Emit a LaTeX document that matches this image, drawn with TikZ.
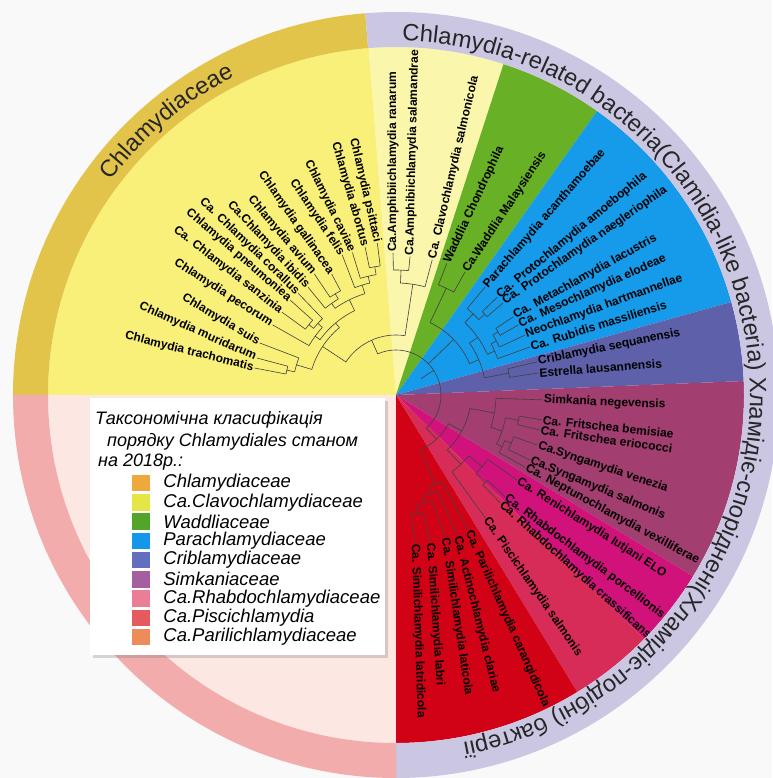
\documentclass[tikz,border=0pt]{standalone}
\usepackage{fontspec}
\setmainfont{Liberation Sans}
\usepackage{tikz}
\usetikzlibrary{positioning, decorations.text, shadows}

\definecolor{bgwhite}{RGB}{249,249,250}
\definecolor{chlamy}{RGB}{249,240,122}
\definecolor{clavo}{RGB}{250,246,172}
\definecolor{waddlia}{RGB}{104,176,38}
\definecolor{parachl}{RGB}{22,154,234}
\definecolor{cribla}{RGB}{94,96,170}
\definecolor{simkan}{RGB}{162,62,112}
\definecolor{rhabdo}{RGB}{208,18,122}
\definecolor{pisci}{RGB}{216,44,88}
\definecolor{parili}{RGB}{210,2,22}
\definecolor{pinkin}{RGB}{252,231,227}
\definecolor{ringyel}{RGB}{227,196,74}
\definecolor{ringlav}{RGB}{203,198,226}
\definecolor{ringpink}{RGB}{243,172,172}
% legend swatches
\definecolor{lgchlamy}{RGB}{238,168,60}
\definecolor{lgclavo}{RGB}{228,230,70}
\definecolor{lgwaddlia}{RGB}{82,165,40}
\definecolor{lgpara}{RGB}{20,150,235}
\definecolor{lgcribla}{RGB}{100,110,190}
\definecolor{lgsimkan}{RGB}{165,95,160}
\definecolor{lgrhabdo}{RGB}{235,125,150}
\definecolor{lgpisci}{RGB}{228,90,95}
\definecolor{lgparili}{RGB}{235,140,90}

\tikzstyle{branch} = [black!75, line width=0.6pt]
\tikzstyle{leaf} = [font=\bfseries\fontsize{12}{12}\selectfont, inner sep=1pt]
\tikzstyle{legtext} = [font=\itshape\fontsize{18.5}{19}\selectfont, anchor=west, inner sep=0pt]
\tikzstyle{legtitle} = [font=\itshape\fontsize{18}{18}\selectfont, anchor=west, inner sep=0pt]
\newcommand{\ringfont}{\fontsize{23.7}{24}\selectfont\color{black!85}}

\begin{document}
\begin{tikzpicture}[x=1pt, y=1pt]
    % frame
    \useasboundingbox (-396,-383) rectangle (376,395);
    \fill[bgwhite] (-396,-383) rectangle (376,395);

    % coloured sectors
    \fill[pinkin] (0,0) -- (180:348) arc[start angle=180, end angle=270, radius=348] -- cycle;
    \foreach \a/\b/\c in {94.5/180/chlamy, 72/94.5/clavo, 54.7/72/waddlia, 15.5/54.7/parachl, 2.3/15.5/cribla,
        -31.4/2.3/simkan, -44.5/-31.4/rhabdo, -58.6/-44.5/pisci, -90/-58.6/parili}
        \fill[\c] (0,0) -- (\a:348) arc[start angle=\a, end angle=\b, radius=348] -- cycle;

    % inner branches: arc from/to, radius, parent radius
    \foreach \a/\b/\rr/\pp in {169.2/165.1/112/104, 167.15/159.1/104/88, 144/138.1/112/106, 141.05/133.9/106/100,
        150.4/137.5/100/94, 124/118/118/112, 129.2/121/112/106, 101.8/97/130/122, 107/99.4/122/115,
        111/103.2/115/106, 125.1/107.1/106/94, 143.95/116.1/94/88, 163.1/130.03/88/60,
        91.2/84.2/125/112, 87.7/75/112/60, 146.6/81.35/60/45,
        68.9/60.7/118/80, 44/40.7/120/112, 50.5/42.35/112/100, 33.7/29.8/120/114, 31.75/24.9/114/108,
        28.3/19.7/108/100, 46.4/24/100/90, 13.2/8.8/115/90, 35.2/11/90/80, 64.8/23.1/80/45,
        -9.7/-13.7/125/112, -19.5/-25.9/125/118, -22.7/-29.2/118/112, -11.7/-25.95/112/100, -1.9/-18.8/100/75,
        -43/-46/125/112, -35.1/-44.5/112/95, -39.8/-54/95/75, -10.35/-46.9/75/60,
        -77/-82.7/120/112, -71/-79.85/112/105, -66.5/-75.4/105/98, -62/-70.95/98/60, -28.6/-66.5/60/45,
        113.9/-47.55/45/30}{
        \pgfmathsetmacro{\mid}{(\a+\b)/2}
        \draw[branch] (\a:\rr) arc[start angle=\a, end angle=\b, radius=\rr] (\mid:\rr) -- (\mid:\pp);
    }

    % leaves on the left: id/angle/radius/direction/node radius/name
    \foreach \i/\ang/\rad/\dir/\rn/\txt in {1/169.2/144/166/112/Chlamydia trachomatis,
        2/165.1/144/156/112/Chlamydia muridarum, 3/159.1/146/149/104/Chlamydia suis,
        4/150.4/142/147/100/Chlamydia pecorum, 5/144/141/142/112/Ca. Chlamydia sanzinia,
        6/138.1/142/139/112/Chlamydia pneumoniea, 7/133.9/141/136/106/Ca. Chlamydia corallus,
        8/129.2/139/133/112/Ca.Chlamydia ibidis, 9/124/146/130/118/Chlamydia avium,
        10/118/137/125/118/Chlamydia gallinacea, 11/111/150/124/115/Chlamydia felis,
        12/107/149/116/122/Chlamydia caviae, 13/101.8/151/106/130/Chlamydia abortus,
        14/97/153/103/130/Chlamydia psittaci}{
        \pgfmathsetmacro{\rot}{\dir-180}
        \node[leaf, rotate=\rot, anchor=east] (l\i) at (\ang:\rad) {\txt};
        \draw[branch] (\ang:\rn) -- (l\i.east);
    }

    % leaves on the right
    \foreach \i/\ang/\rad/\dir/\rn/\txt in {15/91.2/142/90/125/Ca.Amphibiichlamydia ranarum,
        16/84.2/139/88.6/125/Ca.Amphibiichlamydia salamandrae, 17/75/140/76.8/112/Ca. Clavochlamydia salmonicola,
        18/68.9/141/65/118/Waddlia Chondrophila, 19/60.7/141/56.5/118/Ca.Waddlia Malaysiensis,
        20/50.5/140/49/112/Parachlamydia acanthamoebae, 21/44/141/39.5/120/Ca. Protochlamydia amoebophila,
        22/40.7/141/35/120/Ca. Protochlamydia naegleriophila, 23/33.7/141/29/120/Ca. Metachlamydia lacustris,
        24/29.8/141/24.5/120/Ca. Mesochlamydia elodeae, 25/24.9/142/20/114/Neochlamydia hartmannellae,
        26/19.7/142/17.5/108/Ca. Rubidis massiliensis, 27/13.2/145/11.5/115/Criblamydia sequanensis,
        28/8.8/144/4.5/115/Estrella lausannensis, 29/-1.9/147/-2.5/100/Simkania negevensis,
        30/-9.7/148/-6/125/Ca. Fritschea bemisiae, 31/-13.7/148/-8/125/Ca. Fritschea eriococci,
        32/-19.5/150/-18.6/125/Ca.Syngamydia venezia, 33/-25.9/149/-22.5/125/Ca.Syngamydia salmonis,
        34/-29.2/148/-28.5/118/Ca. Neptunochlamydia vexilliferae, 35/-35.1/148/-32.5/112/Ca. Renichlamydia lutjani ELO,
        36/-43/149/-37/125/Ca. Rhabdochlamydia porcellionis, 37/-46/150/-42/125/Ca. Rhabdochlamydia crassificans,
        38/-54/152/-55.5/95/Ca. Piscichlamydia salmonis, 39/-62/153/-66/98/Ca. Parilichlamydia carangidicola,
        40/-66.5/153/-76/105/Ca. Actinochlamydia clariae, 41/-71/150/-81.5/112/Ca. Similichlamydia laticola,
        42/-77/151/-86/120/Ca. Similichlamydia labri, 43/-82.7/149/-88/120/Ca. Similichlamydia latridicola}{
        \node[leaf, rotate=\dir, anchor=west] (l\i) at (\ang:\rad) {\txt};
        \draw[branch] (\ang:\rn) -- (l\i.west);
    }

    % outer rings
    \fill[ringyel] (94.6:383) arc[start angle=94.6, end angle=180, radius=383] -- (180:348)
        arc[start angle=180, end angle=94.6, radius=348] -- cycle;
    \fill[ringlav] (94.6:383) arc[start angle=94.6, end angle=-90, radius=383] -- (-90:348)
        arc[start angle=-90, end angle=94.6, radius=348] -- cycle;
    \fill[ringpink] (180:383) arc[start angle=180, end angle=270, radius=383] -- (270:348)
        arc[start angle=270, end angle=180, radius=348] -- cycle;

    % ring titles
    \path[decorate, decoration={text along path, text align=center, text={|\ringfont|Chlamydiaceae}}]
        (150:357) arc[start angle=150, end angle=110, radius=357];
    \path[decorate, decoration={text along path, text align=left,
        text={|\ringfont|Chlamydia-related bacteria(Clamidia-like bacteria) Хламідіє-споріднені(Хламідіє-подібні) бактерії}}]
        (89:354) arc[start angle=89, end angle=-100, radius=354];

    % legend
    \node[fill=white, minimum width=295, minimum height=257,
        drop shadow={shadow xshift=3pt, shadow yshift=-3pt, opacity=0.3}] (legend) at (-158.5,-131.5) {};
    \node[legtitle] (t1) at (-301,-25) {Таксономічна класифікація};
    \node[legtitle] (t2) at (-289,-47) {порядку Chlamydiales станом};
    \node[legtitle] (t3) at (-298,-67) {на 2018р.:};
    \foreach \k/\c/\txt in {0/lgchlamy/Chlamydiaceae, 1/lgclavo/Ca.Clavochlamydiaceae, 2/lgwaddlia/Waddliaceae,
        3/lgpara/Parachlamydiaceae, 4/lgcribla/Criblamydiaceae, 5/lgsimkan/Simkaniaceae,
        6/lgrhabdo/Ca.Rhabdochlamydiaceae, 7/lgpisci/Ca.Piscichlamydia, 8/lgparili/Ca.Parilichlamydiaceae}{
        \node[fill=\c, minimum width=18, minimum height=16.5, inner sep=0pt] (sq\k) at (-255,-88-19.25*\k) {};
        \node[legtext, right=13pt of sq\k] (lg\k) {\txt};
    }
\end{tikzpicture}
\end{document}
